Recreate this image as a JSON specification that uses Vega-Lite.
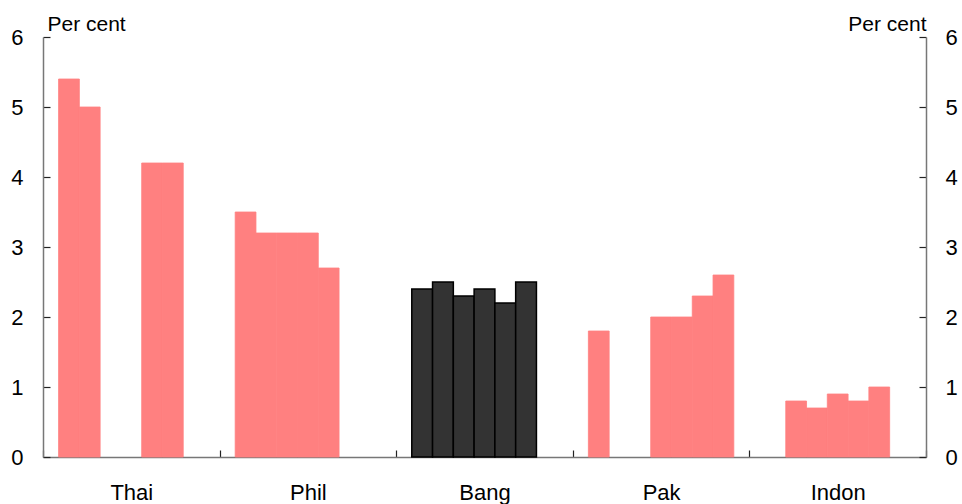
{
  "$schema": "https://vega.github.io/schema/vega-lite/v6.json",
  "width": 883,
  "height": 420,
  "autosize": {"type": "none"},
  "padding": {"left": 43, "top": 37, "right": 36, "bottom": 47},
  "config": {
    "view": {"stroke": null},
    "font": "Liberation Sans",
    "axis": {
      "domainColor": "#777777",
      "domainWidth": 1.5,
      "tickColor": "#222222",
      "tickWidth": 1.2,
      "labelColor": "#000000",
      "titleColor": "#000000",
      "grid": false
    }
  },
  "data": {
    "values": [
      {"country": "Thai", "period": "1", "value": 5.4},
      {"country": "Thai", "period": "2", "value": 5.0},
      {"country": "Thai", "period": "5", "value": 4.2},
      {"country": "Thai", "period": "6", "value": 4.2},
      {"country": "Phil", "period": "1", "value": 3.5},
      {"country": "Phil", "period": "2", "value": 3.2},
      {"country": "Phil", "period": "3", "value": 3.2},
      {"country": "Phil", "period": "4", "value": 3.2},
      {"country": "Phil", "period": "5", "value": 2.7},
      {"country": "Bang", "period": "1", "value": 2.4},
      {"country": "Bang", "period": "2", "value": 2.5},
      {"country": "Bang", "period": "3", "value": 2.3},
      {"country": "Bang", "period": "4", "value": 2.4},
      {"country": "Bang", "period": "5", "value": 2.2},
      {"country": "Bang", "period": "6", "value": 2.5},
      {"country": "Pak", "period": "1", "value": 1.8},
      {"country": "Pak", "period": "4", "value": 2.0},
      {"country": "Pak", "period": "5", "value": 2.0},
      {"country": "Pak", "period": "6", "value": 2.3},
      {"country": "Pak", "period": "7", "value": 2.6},
      {"country": "Indon", "period": "2", "value": 0.8},
      {"country": "Indon", "period": "3", "value": 0.7},
      {"country": "Indon", "period": "4", "value": 0.9},
      {"country": "Indon", "period": "5", "value": 0.8},
      {"country": "Indon", "period": "6", "value": 1.0}
    ]
  },
  "encoding": {
    "x": {
      "field": "country",
      "type": "nominal",
      "sort": ["Thai", "Phil", "Bang", "Pak", "Indon"],
      "scale": {"paddingInner": 0, "paddingOuter": 0},
      "axis": {
        "title": null,
        "labelAngle": 0,
        "labelFontSize": 22,
        "labelPadding": 32,
        "tickSize": -7,
        "tickBand": "extent",
        "labelBaseline": "top"
      }
    },
    "xOffset": {
      "field": "period",
      "type": "ordinal",
      "scale": {"domain": ["1", "2", "3", "4", "5", "6", "7"], "paddingInner": 0, "paddingOuter": 0.75}
    },
    "y": {
      "field": "value",
      "type": "quantitative",
      "scale": {"domain": [0, 6], "nice": false}
    }
  },
  "layer": [
    {
      "mark": {"type": "bar"},
      "encoding": {
        "y": {
          "field": "value",
          "type": "quantitative",
          "scale": {"domain": [0, 6], "nice": false},
          "axis": {
            "orient": "left",
            "values": [0, 1, 2, 3, 4, 5, 6],
            "labelFontSize": 22,
            "tickSize": -7,
            "labelPadding": 27,
            "title": "Per cent",
            "titleAngle": 0,
            "titleFontSize": 21,
            "titleFontWeight": "normal",
            "titleAlign": "left",
            "titleBaseline": "alphabetic",
            "titleX": 4,
            "titleY": -7
          }
        },
        "color": {
          "condition": {"test": "datum.country === 'Bang'", "value": "#333333"},
          "value": "#FF8080"
        },
        "stroke": {
          "condition": {"test": "datum.country === 'Bang'", "value": "#000000"},
          "value": "#FF8080"
        },
        "strokeWidth": {
          "condition": {"test": "datum.country === 'Bang'", "value": 1.5},
          "value": 0.8
        }
      }
    },
    {
      "mark": {"type": "bar", "opacity": 0},
      "encoding": {
        "y": {
          "field": "value",
          "type": "quantitative",
          "scale": {"domain": [0, 6], "nice": false},
          "axis": {
            "orient": "right",
            "values": [0, 1, 2, 3, 4, 5, 6],
            "labelFontSize": 22,
            "tickSize": -7,
            "labelPadding": 26,
            "title": "Per cent",
            "titleAngle": 0,
            "titleFontSize": 21,
            "titleFontWeight": "normal",
            "titleAlign": "right",
            "titleBaseline": "alphabetic",
            "titleX": 0,
            "titleY": -7
          }
        }
      }
    }
  ],
  "resolve": {"axis": {"y": "independent"}}
}
